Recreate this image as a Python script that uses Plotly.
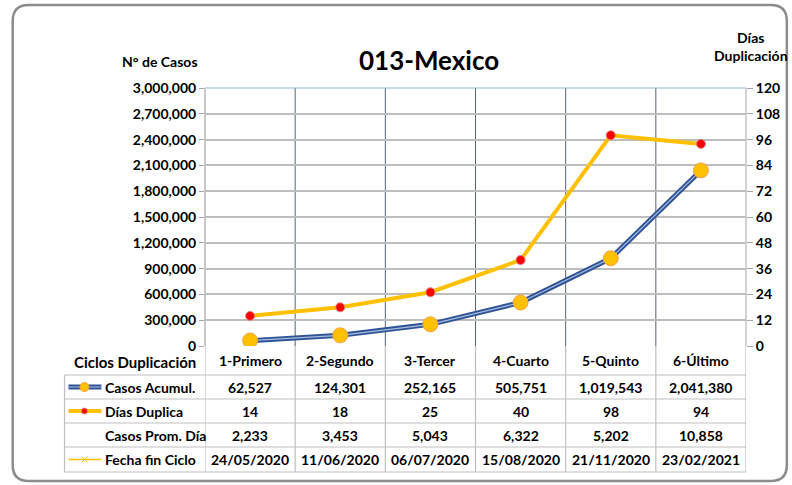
import plotly.graph_objects as go

categories = ["1-Primero", "2-Segundo", "3-Tercer", "4-Cuarto", "5-Quinto", "6-Último"]
casos_acumul = [62527, 124301, 252165, 505751, 1019543, 2041380]
dias_duplica = [14, 18, 25, 40, 98, 94]
casos_prom_dia = [2233, 3453, 5043, 6322, 5202, 10858]
fecha_fin = ["24/05/2020", "11/06/2020", "06/07/2020", "15/08/2020", "21/11/2020", "23/02/2021"]
row_labels = ["Casos Acumul.", "Días Duplica", "Casos Prom. Día", "Fecha fin Ciclo"]
left_ticks = list(range(0, 3000001, 300000))
right_ticks = list(range(0, 121, 12))

W, H = 792, 485
L, R, T, B = 205, 748, 88, 346
FONT = "Lato"


def px(x):
    return (x - L) / (R - L)


def py(y):
    return (B - y) / (B - T)


n = len(categories)
xs = list(range(n))

fig = go.Figure()
# Casos acumulados: double line look
fig.add_trace(go.Scatter(x=xs, y=casos_acumul, mode="lines", line=dict(color="#2F5496", width=5),
                         hoverinfo="skip", showlegend=False))
fig.add_trace(go.Scatter(x=xs, y=casos_acumul, mode="lines+markers", line=dict(color="#A9BCE0", width=1.2),
                         marker=dict(size=15, color="#FFC000", line=dict(color="#F4A24A", width=1)),
                         name="Casos Acumul.", showlegend=False))
fig.add_trace(go.Scatter(x=xs, y=dias_duplica, yaxis="y2", mode="lines+markers",
                         line=dict(color="#FFC000", width=4),
                         marker=dict(size=9, color="#FF0000", line=dict(color="#E08080", width=1)),
                         name="Días Duplica", showlegend=False))

shapes = []
ann = []

# vertical category separators (plot + table)
for i in range(n + 1):
    xv = i - 0.5
    shapes.append(dict(type="line", xref="x", yref="paper", x0=xv, x1=xv, y0=py(472), y1=py(346),
                       line=dict(color="#BFBFBF", width=1.2), layer="below"))
    if 0 < i < n:
        shapes.append(dict(type="line", xref="x", yref="paper", x0=xv, x1=xv, y0=0, y1=1,
                           line=dict(color="#56627A", width=1), layer="below"))
# plot borders
shapes.append(dict(type="line", xref="paper", yref="paper", x0=0, x1=1, y0=1, y1=1,
                   line=dict(color="#8FB4DE", width=1.2), layer="below"))
shapes.append(dict(type="line", xref="paper", yref="paper", x0=0, x1=0, y0=0, y1=1,
                   line=dict(color="#C8C8C8", width=2), layer="below"))
shapes.append(dict(type="line", xref="paper", yref="paper", x0=1, x1=1, y0=0, y1=1,
                   line=dict(color="#A6A6A6", width=1), layer="below"))

# table horizontal lines
row_lines = [375, 399, 423, 447, 472]
for yl in row_lines:
    shapes.append(dict(type="line", xref="paper", yref="paper", x0=px(64), x1=1, y0=py(yl), y1=py(yl),
                       line=dict(color="#BFBFBF", width=1.2)))
shapes.append(dict(type="line", xref="paper", yref="paper", x0=px(64), x1=px(64), y0=py(472), y1=py(375),
                   line=dict(color="#BFBFBF", width=1.2)))

# legend keys in table
row_centers = [387, 411, 435, 459.5]
# Casos Acumul.
shapes.append(dict(type="line", xref="paper", yref="paper", x0=px(68), x1=px(101), y0=py(387), y1=py(387),
                   line=dict(color="#2F5496", width=5)))
shapes.append(dict(type="line", xref="paper", yref="paper", x0=px(68), x1=px(101), y0=py(387), y1=py(387),
                   line=dict(color="#A9BCE0", width=1.2)))
shapes.append(dict(type="circle", xref="paper", yref="paper", x0=px(79.5), x1=px(88.5), y0=py(391.5), y1=py(382.5),
                   fillcolor="#FFC000", line=dict(color="#F4A24A", width=1)))
# Días Duplica
shapes.append(dict(type="line", xref="paper", yref="paper", x0=px(68), x1=px(101), y0=py(411), y1=py(411),
                   line=dict(color="#FFC000", width=4)))
shapes.append(dict(type="circle", xref="paper", yref="paper", x0=px(81), x1=px(87), y0=py(414), y1=py(408),
                   fillcolor="#FF0000", line=dict(color="#E08080", width=1)))
# Fecha fin ciclo
shapes.append(dict(type="line", xref="paper", yref="paper", x0=px(68), x1=px(101), y0=py(459.5), y1=py(459.5),
                   line=dict(color="#FFC000", width=1.5)))
shapes.append(dict(type="line", xref="paper", yref="paper", x0=px(81), x1=px(87), y0=py(456.5), y1=py(462.5),
                   line=dict(color="#FFC000", width=1)))
shapes.append(dict(type="line", xref="paper", yref="paper", x0=px(81), x1=px(87), y0=py(462.5), y1=py(456.5),
                   line=dict(color="#FFC000", width=1)))

# outer rounded frame
x0f, x1f, y0f, y1f, r = 12, 789, 5, 481, 16
pts = [
    ("M", x0f + r, y0f), ("L", x1f - r, y0f), ("Q", x1f, y0f, x1f, y0f + r), ("L", x1f, y1f - r),
    ("Q", x1f, y1f, x1f - r, y1f), ("L", x0f + r, y1f), ("Q", x0f, y1f, x0f, y1f - r),
    ("L", x0f, y0f + r), ("Q", x0f, y0f, x0f + r, y0f),
]
path = ""
for p in pts:
    if p[0] == "Q":
        path += f"Q{px(p[1]):.5f},{py(p[2]):.5f} {px(p[3]):.5f},{py(p[4]):.5f} "
    else:
        path += f"{p[0]}{px(p[1]):.5f},{py(p[2]):.5f} "
path += "Z"
shapes.append(dict(type="path", xref="paper", yref="paper", path=path,
                   line=dict(color="#8C8C8C", width=2.5), layer="below"))

fb = dict(family=FONT, size=14, color="#000000")

# category labels
for i, c in enumerate(categories):
    ann.append(dict(x=i, y=py(360), xref="x", yref="paper", text=f"<b>{c}</b>", showarrow=False,
                    font=fb, xanchor="center", yanchor="middle"))
# table values
rows = [
    [f"{v:,}" for v in casos_acumul],
    [str(v) for v in dias_duplica],
    [f"{v:,}" for v in casos_prom_dia],
    fecha_fin,
]
for r_i, row in enumerate(rows):
    for i, v in enumerate(row):
        ann.append(dict(x=i, y=py(row_centers[r_i]), xref="x", yref="paper", text=f"<b>{v}</b>",
                        showarrow=False, font=fb, xanchor="center", yanchor="middle"))
    ann.append(dict(x=px(103), y=py(row_centers[r_i]), xref="paper", yref="paper",
                    text=f"<b>{row_labels[r_i]}</b>", showarrow=False, font=fb,
                    xanchor="left", yanchor="middle"))
ann.append(dict(x=px(198), y=py(362), xref="paper", yref="paper", text="<b>Ciclos Duplicación</b>",
                showarrow=False, font=dict(family=FONT, size=15, color="#000"), xanchor="right", yanchor="middle"))
# titles
ann.append(dict(x=px(430), y=py(60), xref="paper", yref="paper", text="<b>013-Mexico</b>", showarrow=False,
                font=dict(family=FONT, size=26, color="#000"), xanchor="center", yanchor="middle"))
ann.append(dict(x=px(160), y=py(61), xref="paper", yref="paper", text="<b>N° de Casos</b>", showarrow=False,
                font=dict(family=FONT, size=14, color="#000"), xanchor="center", yanchor="middle"))
ann.append(dict(x=px(753), y=py(47), xref="paper", yref="paper", text="<b>Días<br>Duplicación</b>",
                showarrow=False, font=dict(family=FONT, size=14, color="#000"), xanchor="center",
                yanchor="middle", align="center"))

fig.update_layout(
    width=W, height=H,
    margin=dict(l=L, r=W - R, t=T, b=H - B, pad=0),
    paper_bgcolor="white", plot_bgcolor="white",
    showlegend=False,
    xaxis=dict(range=[-0.5, n - 0.5], showticklabels=False, showgrid=False, zeroline=False,
               showline=False, fixedrange=True),
    yaxis=dict(range=[0, 3000000], tickvals=left_ticks, ticktext=[f"<b>{v:,}</b>" for v in left_ticks],
               tickfont=dict(family=FONT, size=14, color="#000"), showgrid=True, gridcolor="#BDBDBD",
               gridwidth=1.5, zeroline=False, ticks="outside", ticklen=5, tickcolor="#A6A6A6",
               showline=False),
    yaxis2=dict(range=[0, 120], tickvals=right_ticks, ticktext=[f"<b>{v}</b>" for v in right_ticks],
                tickfont=dict(family=FONT, size=14, color="#000"), overlaying="y", side="right",
                showgrid=False, zeroline=False, ticks="outside", ticklen=6, tickcolor="#A6A6A6",
                showline=False),
    shapes=shapes,
    annotations=ann,
)

fig.write_html("out.html", config={"displayModeBar": False},
               post_script="document.documentElement.style.margin='0';document.body.style.margin='0';"
                           "document.body.style.padding='0';document.body.style.overflow='hidden';")
